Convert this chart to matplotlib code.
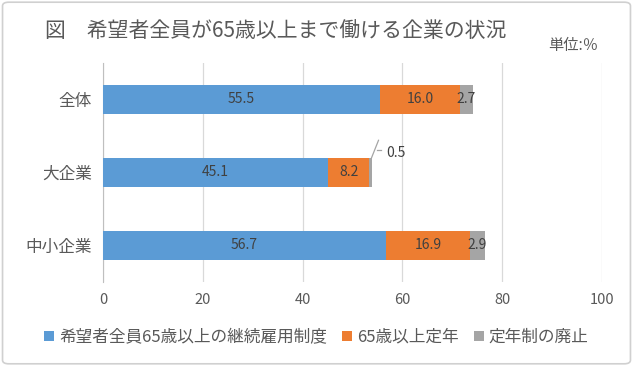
import matplotlib.pyplot as plt
from matplotlib.patches import FancyBboxPatch

plt.rcParams['font.family'] = ['Noto Sans CJK JP', 'DejaVu Sans']

categories = ['全体', '大企業', '中小企業']
keizoku = [55.5, 45.1, 56.7]
teinen65 = [16.0, 8.2, 16.9]
haishi = [2.7, 0.5, 2.9]
series_names = ['希望者全員65歳以上の継続雇用制度', '65歳以上定年', '定年制の廃止']
colors = ['#5B9BD5', '#ED7D31', '#A5A5A5']
txt = '#595959'

fig = plt.figure(figsize=(6.33, 3.66), dpi=100)
fig.patches.append(FancyBboxPatch((0.004, 0.006), 0.992, 0.988, boxstyle='round,pad=0,rounding_size=0.01',
                                  transform=fig.transFigure, fc='white', ec='#D0D0D0', lw=1.2, zorder=-1))
ax = fig.add_axes([0.163, 0.23, 0.788, 0.598])
ax.set_facecolor('none')

y = list(range(len(categories)))
left = [0] * len(categories)
for vals, name, c in zip([keizoku, teinen65, haishi], series_names, colors):
    bars = ax.barh(y, vals, left=left, height=0.4, color=c, label=name, zorder=3)
    for i, (b, v) in enumerate(zip(bars, vals)):
        cx = left[i] + v / 2
        if v >= 1:
            ax.text(cx, i, f'{v:.1f}', ha='center', va='center', fontsize=10, color='#404040', zorder=4)
        else:
            # small slice: label outside with a leader line
            x_end = left[i] + v
            ax.plot([x_end, x_end + 1.4], [i - 0.2, i - 0.44],
                    color='#A5A5A5', lw=0.9, zorder=4)
            ax.plot([x_end + 1.0, x_end + 1.8], [i - 0.3, i - 0.3],
                    color='#A5A5A5', lw=0.9, zorder=4)
            ax.text(x_end + 3.0, i - 0.27, f'{v:.1f}', ha='left', va='center', fontsize=10,
                    color='#404040', zorder=4)
    left = [l + v for l, v in zip(left, vals)]

ax.set_xlim(0, 100)
ax.set_ylim(2.5, -0.5)
ax.set_xticks(range(0, 101, 20))
ax.set_yticks(y)
ax.set_yticklabels(categories, fontsize=12, color=txt)
ax.tick_params(axis='x', labelsize=10.5, colors=txt, length=0, pad=8)
ax.tick_params(axis='y', length=0, pad=8)
ax.grid(axis='x', color='#D9D9D9', lw=0.9, zorder=0)
for s in ['top', 'right', 'bottom']:
    ax.spines[s].set_visible(False)
ax.spines['left'].set_color('#BFBFBF')

fig.text(0.436, 0.915, '図　希望者全員が65歳以上まで働ける企業の状況', ha='center', va='center',
         fontsize=15, color=txt)
fig.text(0.945, 0.875, '単位:％', ha='right', va='center', fontsize=11, color=txt)

fig.legend(loc='center', bbox_to_anchor=(0.5, 0.078), ncol=3, frameon=False, fontsize=12,
           handlelength=0.6, handleheight=0.6, handletextpad=0.3, columnspacing=0.9,
           labelcolor=txt)

fig.savefig('out.png', dpi=100)
